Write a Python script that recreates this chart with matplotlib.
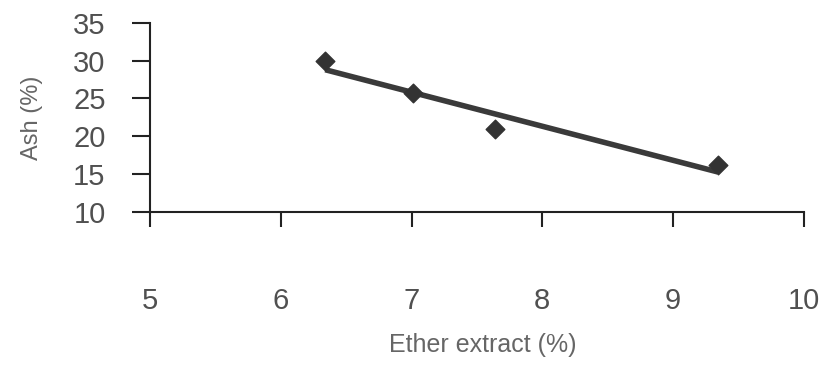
import numpy as np
import matplotlib
matplotlib.use("Agg")
import matplotlib.pyplot as plt

plt.rcParams['font.family'] = ['Liberation Sans', 'DejaVu Sans']

ether = [6.34, 7.01, 7.64, 9.34]
ash = [30.0, 25.7, 20.9, 16.2]
x_ticks = [5, 6, 7, 8, 9, 10]
y_ticks = [10, 15, 20, 25, 30, 35]

fig = plt.figure(figsize=(8.25, 3.65), dpi=100)
ax = fig.add_axes([0.1818, 0.419, 0.7927, 0.519])

coef = np.polyfit(ether, ash, 1)
xs = np.array([min(ether), max(ether)])
ax.plot(xs, np.polyval(coef, xs), color='#3a3a3a', lw=4, solid_capstyle='butt', zorder=2)
ax.scatter(ether, ash, marker='D', s=90, color='#333333', zorder=3)

ax.set_xlim(5, 10)
ax.set_ylim(10, 35)
ax.set_xticks(x_ticks)
ax.set_yticks(y_ticks)
for s in ['top', 'right']:
    ax.spines[s].set_visible(False)
for s in ['left', 'bottom']:
    ax.spines[s].set_color('#222222')
    ax.spines[s].set_linewidth(1.5)
ax.tick_params(axis='y', direction='out', length=13, width=1.5, color='#222222',
               pad=19, labelsize=21, labelcolor='#505050')
ax.tick_params(axis='x', direction='out', length=11, width=1.5, color='#222222',
               pad=43, labelsize=21, labelcolor='#505050')
ax.set_xlabel('Ether extract (%)', fontsize=18, color='#666666', va='center')
ax.set_ylabel('Ash (%)', fontsize=17, color='#666666', va='center')
ax.xaxis.set_label_coords(0.509, -0.704)
ax.yaxis.set_label_coords(-0.181, 0.497)

fig.savefig('out.png', dpi=100)
